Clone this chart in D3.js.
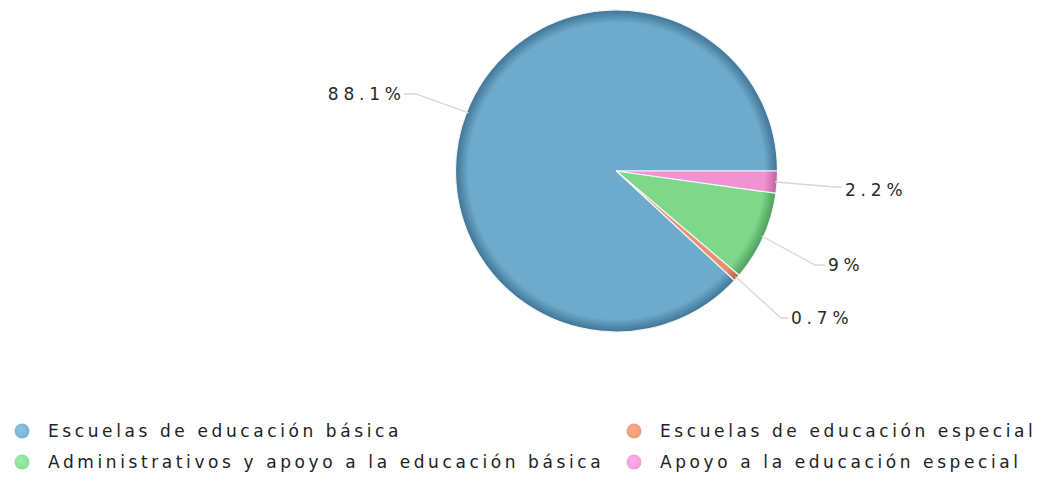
<!DOCTYPE html>
<html>
<head>
<meta charset="utf-8">
<script src="https://cdn.jsdelivr.net/npm/d3@7/dist/d3.min.js"></script>
<style>
  html, body { margin: 0; padding: 0; background: #fff; }
  svg { display: block; }
  text { font-family: "DejaVu Sans", Verdana, sans-serif; }
</style>
</head>
<body>
<svg id="chart" width="1040" height="478"></svg>
<script>
// Series, in legend order (row by row)
const categories = [
  "Escuelas de educación básica",
  "Escuelas de educación especial",
  "Administrativos y apoyo a la educación básica",
  "Apoyo a la educación especial"
];
const values = [88.1, 0.7, 9, 2.2];
const valueLabels = ["88.1%", "0.7%", "9%", "2.2%"];
const colors = ["#6eaacb", "#e8906c", "#7fd88a", "#f193d2"];
const rimColors = ["#3f7394", "#b5603f", "#4c9c5a", "#c0609e"];

const svg = d3.select("#chart");
const cx = 616.5, cy = 171, R = 161;

const defs = svg.append("defs");
colors.forEach((c, i) => {
  const g = defs.append("radialGradient")
    .attr("id", "grad" + i)
    .attr("gradientUnits", "userSpaceOnUse")
    .attr("cx", 0).attr("cy", 0).attr("r", R);
  g.append("stop").attr("offset", 0).attr("stop-color", c);
  g.append("stop").attr("offset", 0.92).attr("stop-color", c);
  g.append("stop").attr("offset", 1).attr("stop-color", rimColors[i]);
});

// Slices run counter-clockwise starting at three o'clock
const pie = d3.pie()
  .sort(null)
  .value(d => d)
  .startAngle(Math.PI / 2)
  .endAngle(Math.PI / 2 - 2 * Math.PI);

const arcs = pie(values);
const arc = d3.arc().innerRadius(0).outerRadius(R);

const g = svg.append("g").attr("transform", `translate(${cx},${cy})`);

g.selectAll("path.slice")
  .data(arcs)
  .join("path")
  .attr("class", "slice")
  .attr("d", arc)
  .attr("fill", (d, i) => `url(#grad${i})`)
  .attr("stroke", "#eef6f8")
  .attr("stroke-width", 1.2)
  .attr("stroke-linejoin", "round");

// Label placement: elbow point and text anchor per slice
const labelLayout = [
  { ex: 416, ey: 94, tx: 401, ty: 94, anchor: "end" },
  { ex: 781, ey: 318, tx: 791, ty: 318, anchor: "start" },
  { ex: 815, ey: 265, tx: 828, ty: 265, anchor: "start" },
  { ex: 835, ey: 187, tx: 845, ty: 190, anchor: "start" }
];

const rim = d3.arc().innerRadius(R - 2).outerRadius(R - 2);
arcs.forEach((d, i) => {
  const [mx, my] = rim.centroid(d);
  const L = labelLayout[i];
  const endX = L.anchor === "end" ? L.tx + 3 : L.tx - 3;
  svg.append("polyline")
    .attr("points", [[cx + mx, cy + my], [L.ex, L.ey], [endX, L.ey]].map(p => p.join(",")).join(" "))
    .attr("fill", "none")
    .attr("stroke", "#d8d8d4")
    .attr("stroke-width", 1.3);
  const t = svg.append("text")
    .attr("x", L.tx)
    .attr("y", L.ty)
    .attr("dy", "0.36em")
    .attr("text-anchor", L.anchor)
    .attr("font-size", 17)
    .attr("letter-spacing", 4.8)
    .attr("fill", "#2a2a2a")
    .text(valueLabels[i]);
  if (L.anchor === "end") t.attr("x", L.tx + 4.8);
});

// Legend: two columns, two rows
const legendCols = [22, 634];
const legendRows = [431, 462];
categories.forEach((name, i) => {
  const x = legendCols[i % 2], y = legendRows[Math.floor(i / 2)];
  const lg = defs.append("radialGradient").attr("id", "lg" + i)
    .attr("cx", "40%").attr("cy", "40%").attr("r", "60%");
  lg.append("stop").attr("offset", 0).attr("stop-color", d3.color(colors[i]).brighter(0.3));
  lg.append("stop").attr("offset", 1).attr("stop-color", colors[i]);
  svg.append("circle")
    .attr("cx", x).attr("cy", y).attr("r", 7.5)
    .attr("fill", `url(#lg${i})`)
    .attr("opacity", 0.9);
  svg.append("text")
    .attr("x", x + 26)
    .attr("y", y)
    .attr("dy", "0.36em")
    .attr("font-size", 17)
    .attr("letter-spacing", 3.6)
    .attr("fill", "#222")
    .text(name);
});
</script>
</body>
</html>
